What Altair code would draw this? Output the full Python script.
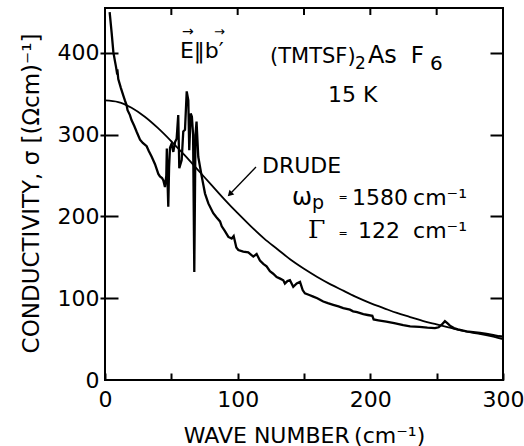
import altair as alt
import pandas as pd

meas_x = [3.5, 5, 6.3, 7.5, 8.3, 8.8, 9.3, 10, 12, 14, 15, 16.3, 17, 18.8, 20, 22, 24, 26.4, 28.5, 31.4,
          33, 35.2, 37.7, 40.2, 41.4, 43, 44, 45.2, 46.2, 46.6, 47.2, 47.7, 48.3, 49, 50.2, 51.5, 52.8, 54,
          55.2, 56, 57.8, 59, 60.3, 61.6, 62.8, 63.5, 64.6, 65.5, 66.4, 67.3, 68.2, 69, 70.3, 72.9, 75.4,
          77.9, 81.6, 84, 86.7, 88, 90.4, 93, 95.5, 97, 99, 100.5, 104.2, 108, 111.8, 114.3, 116.8, 119.3,
          121.8, 124.3, 126.8, 129.4, 132, 134.4, 135.6, 137.5, 139.4, 141.9, 144.5, 147, 149, 150.7, 154,
          157, 160, 164.5, 168, 172, 176, 179.6, 184.6, 187, 190, 194.7, 198, 201.5, 202.5, 206, 212, 218,
          224.8, 230, 237, 243, 248.7, 251.5, 254, 256.2, 258, 260, 263, 266, 272.5, 277.5, 282.6, 287.6,
          292.6, 297, 300]
meas_y = [450, 425, 401, 390, 383, 378, 380, 368, 357, 347, 342, 336, 330, 324, 318, 311, 303, 294, 290, 286,
          280, 273, 264, 252, 249, 247, 244, 236, 250, 283, 240, 212, 260, 284, 289, 279, 291, 295,
          324, 259, 269, 304, 306, 353, 342, 281, 326, 322, 300, 132, 300, 316, 273, 249, 228,
          216, 204, 199, 194, 188, 182, 175, 173, 176, 162, 159, 157, 156, 151, 154, 146, 142,
          139, 133, 130, 126, 124, 122, 118, 121, 122, 114, 118, 120, 110, 106, 104,
          102, 100, 96, 94, 92, 90, 88, 86, 84, 83, 80.5, 79.5, 78.5, 74, 73, 71.5, 69.5,
          67, 65.5, 65, 64, 63.5, 64.5, 68, 72, 69.5, 66.5, 63.5, 62, 59.5, 58.5, 57.5, 56.5,
          55, 53.5, 53]

# Drude fit curve
drude_x = [0, 10, 20, 30, 40, 50, 60, 70, 80, 90, 100, 110, 120, 130, 140, 150, 160, 170, 180, 190, 200,
           210, 220, 230, 240, 250, 260, 270, 280, 290, 300]
drude_y = [342, 340, 333, 322, 308, 292, 275, 257, 239, 221, 204, 188, 173, 160, 147, 136, 126, 117, 109,
           101, 94, 88, 82, 77, 72, 68, 64, 60, 57, 54, 50]

x_ticks = [0, 50, 100, 150, 200, 250, 300]
x_top_ticks = [50, 100, 150, 200, 250]
y_ticks = [0, 100, 200, 300, 400]
y_right_ticks = [100, 200, 300, 400]
Y_MAX = 455

# Annotation texts (data coordinates, left aligned, alphabetic baseline)
ann_text = ["E‖b′", "→", "→", "(TMTSF)", "2", "As", "F", "6", "15 K", "DRUDE",
            "ω", "p", "=", "1580", "cm⁻¹", "=", "122", "cm⁻¹"]
ann_x = [56.5, 58.0, 82.2, 124.4, 188.4, 198.2, 230.5, 245.0, 168.1, 118.3,
         141.0, 156.0, 176.0, 186.2, 232.2, 176.0, 190.7, 232.2]
ann_y = [393.8, 421.0, 421.0, 387.7, 380.4, 387.7, 387.7, 379.2, 340.0, 253.2,
         214.0, 209.1, 219.5, 214.0, 214.0, 175.5, 173.7, 173.7]
ann_size = [22, 14, 13, 21, 17, 24, 23, 20, 22, 22,
            24, 19, 11, 22, 22, 11, 22, 22]

gamma_text = ["Γ"]
gamma_x = [153.0]
gamma_y = [173.7]

arrow_x, arrow_y, arrow_x2, arrow_y2 = [113.8], [260.5], [94.6], [228.1]

FONT = "DejaVu Sans"

meas = pd.DataFrame({"x": meas_x, "y": meas_y})
drude = pd.DataFrame({"x": drude_x, "y": drude_y})
ann = pd.DataFrame({"t": ann_text, "x": ann_x, "y": ann_y, "s": ann_size})
gam = pd.DataFrame({"t": gamma_text, "x": gamma_x, "y": gamma_y})
arr = pd.DataFrame({"x": arrow_x, "y": arrow_y, "x2": arrow_x2, "y2": arrow_y2})
topt = pd.DataFrame({"x": x_top_ticks})

xs = alt.Scale(domain=[0, 300], nice=False, zero=False)
ys = alt.Scale(domain=[0, Y_MAX], nice=False, zero=False)

x_bottom = alt.Axis(values=x_ticks, labelExpr="datum.value % 100 === 0 ? datum.label : ''",
                    offset=-7, tickSize=7, tickWidth=2, tickColor="black", domain=False, grid=False,
                    labelFont=FONT, labelFontSize=22, labelColor="black", labelPadding=9,
                    labelFlush=False, labelOverlap=False, labelBound=False,
                    title="WAVE NUMBER\u2009(cm⁻¹)", titleFont=FONT, titleFontSize=22,
                    titleFontWeight="normal", titleColor="black", titleBaseline="alphabetic",
                    titleY=69, titleX=199, titleAlign="center")
y_left = alt.Axis(values=y_ticks, labelExpr="datum.value === 0 ? '0\u00a0' : datum.label",
                  offset=-13, tickSize=18, tickWidth=2, tickColor="black",
                  tickOpacity={"condition": {"test": "datum.value === 0", "value": 0}, "value": 1},
                  domain=False, grid=False, labelFont=FONT, labelFontSize=22, labelColor="black",
                  labelPadding=1, labelFlush=False, labelOverlap=False, labelBound=False,
                  title="CONDUCTIVITY, σ [(Ωcm)⁻¹]", titleFont=FONT, titleFontSize=23,
                  titleFontWeight="normal", titleColor="black", titleAngle=270,
                  titleBaseline="alphabetic", titleAlign="center", titleX=-80, titleY=185)
y_right = alt.Axis(orient="right", values=y_right_ticks, offset=-13, tickSize=13, tickWidth=2,
                   tickColor="black", domain=False, grid=False, labels=False, title="")

l_meas = alt.Chart(meas).mark_line(color="black", strokeWidth=2.3).encode(
    x=alt.X("x:Q", scale=xs, axis=x_bottom),
    y=alt.Y("y:Q", scale=ys, axis=y_left),
)
l_drude = alt.Chart(drude).mark_line(color="black", strokeWidth=1.8, interpolate="monotone").encode(
    x=alt.X("x:Q", scale=xs, axis=None),
    y=alt.Y("y:Q", scale=ys, axis=y_right),
)
# inward ticks along the top edge
l_top = alt.Chart(topt).mark_tick(orient="vertical", size=7, thickness=2, color="black",
                                  opacity=1, yOffset=3.5).encode(
    x=alt.X("x:Q", scale=xs, axis=None),
    y=alt.Y(datum=Y_MAX, scale=ys, axis=None),
)
l_text = alt.Chart(ann).mark_text(align="left", baseline="alphabetic", font=FONT, color="black").encode(
    x=alt.X("x:Q", scale=xs, axis=None),
    y=alt.Y("y:Q", scale=ys, axis=None),
    text="t:N",
    size=alt.Size("s:Q", scale=None),
)
l_gamma = alt.Chart(gam).mark_text(align="left", baseline="alphabetic", font="DejaVu Serif",
                                   fontSize=25, color="black").encode(
    x=alt.X("x:Q", scale=xs, axis=None),
    y=alt.Y("y:Q", scale=ys, axis=None),
    text="t:N",
)
l_arrow = alt.Chart(arr).mark_rule(color="black", strokeWidth=1.3).encode(
    x=alt.X("x:Q", scale=xs, axis=None),
    y=alt.Y("y:Q", scale=ys, axis=None),
    x2="x2:Q", y2="y2:Q",
)
l_head = alt.Chart(arr).mark_point(shape="triangle", filled=True, color="black", size=45,
                                   angle=225, opacity=1).encode(
    x=alt.X("x2:Q", scale=xs, axis=None),
    y=alt.Y("y2:Q", scale=ys, axis=None),
)

chart = alt.layer(l_meas, l_drude, l_top, l_text, l_gamma, l_arrow, l_head).resolve_scale(
    x="independent", y="independent"
).resolve_axis(
    x="independent", y="independent"
).properties(
    width=398, height=372,
    padding={"left": 105, "top": 8, "right": 21, "bottom": 66},
    autosize=alt.AutoSizeParams(type="none"),
    background="white",
).configure_view(stroke="black", strokeWidth=2)

chart.save("out.html", embed_options={"renderer": "svg", "actions": False})
